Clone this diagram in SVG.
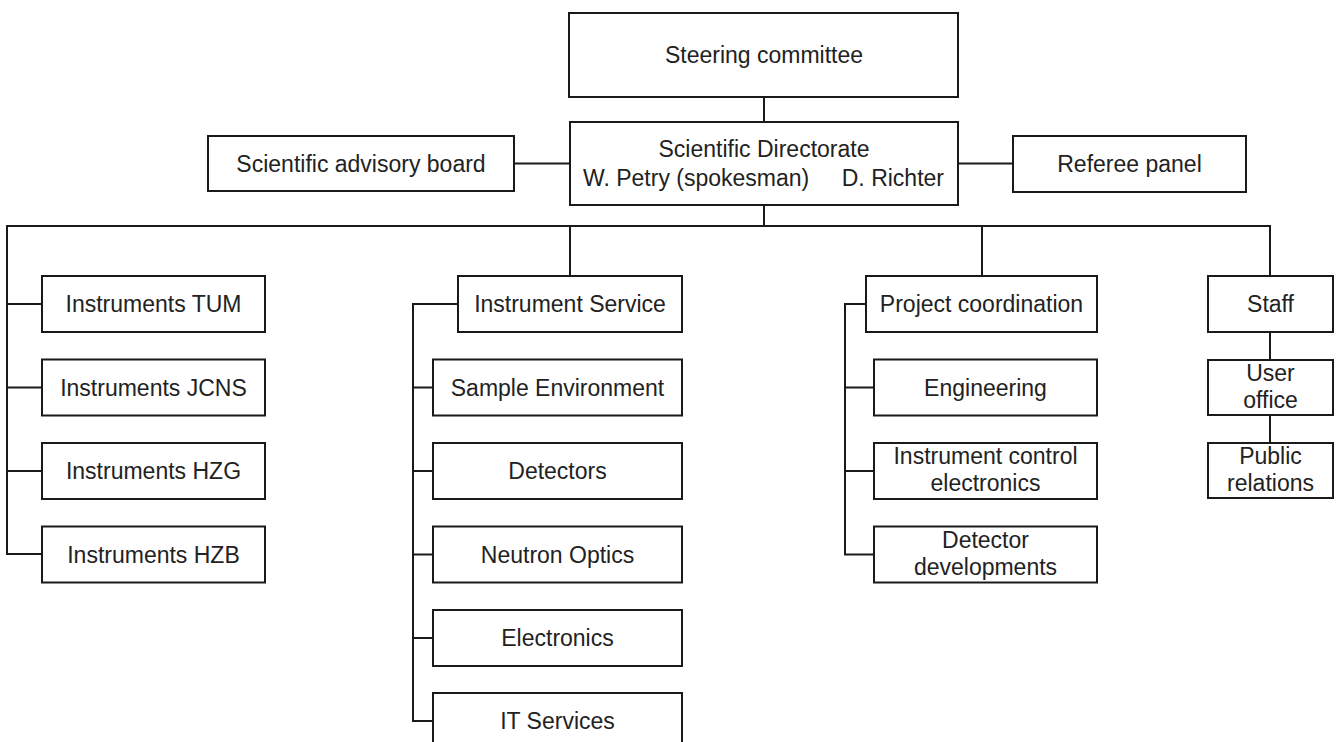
<svg xmlns="http://www.w3.org/2000/svg" width="1337" height="742" viewBox="0 0 1337 742">
<style>
.box{fill:#fff;stroke:#1a1a1a;stroke-width:2}
.ln{fill:none;stroke:#1a1a1a;stroke-width:2}
text{font-family:"Liberation Sans",Arial,sans-serif;font-size:23px;fill:#222;text-anchor:middle}
</style>
<rect width="1337" height="742" fill="#fff"/>
<g id="connectors">
<path class="ln" d="M764 97V122M764 205V226M514 163.5H570M958 163.5H1013"/>
<path class="ln" d="M1270 276V226H7V554H42M7 304H42M7 387.5H42M7 471H42"/>
<path class="ln" d="M570 226V276M458 304H413V721H433M413 387.5H433M413 471H433M413 554.5H433M413 638H433"/>
<path class="ln" d="M982 226V277M866 304H845V554.5H874M845 387.5H874M845 471H874"/>
<path class="ln" d="M1270 332V360M1270 415V443"/>
</g>
<g id="steering"><rect class="box" x="569" y="13" width="389" height="84"/><text x="764" y="63">Steering committee</text></g>
<g id="directorate"><rect class="box" x="570" y="122" width="388" height="83"/><text x="764" y="157">Scientific Directorate</text><text y="186"><tspan x="583" style="text-anchor:start">W. Petry (spokesman)</tspan><tspan x="944" style="text-anchor:end">D. Richter</tspan></text></g>
<g id="advisory"><rect class="box" x="208" y="136" width="306" height="55"/><text x="361" y="172">Scientific advisory board</text></g>
<g id="referee"><rect class="box" x="1013" y="136" width="233" height="56"/><text x="1129.5" y="172">Referee panel</text></g>
<g id="tum"><rect class="box" x="42" y="276" width="223" height="56"/><text x="153.5" y="312">Instruments TUM</text></g>
<g id="jcns"><rect class="box" x="42" y="359.5" width="223" height="56"/><text x="153.5" y="395.5">Instruments JCNS</text></g>
<g id="hzg"><rect class="box" x="42" y="443" width="223" height="56"/><text x="153.5" y="479">Instruments HZG</text></g>
<g id="hzb"><rect class="box" x="42" y="526.5" width="223" height="56"/><text x="153.5" y="562.5">Instruments HZB</text></g>
<g id="instrument-service"><rect class="box" x="458" y="276" width="224" height="56"/><text x="570" y="312">Instrument Service</text></g>
<g id="sample-env"><rect class="box" x="433" y="359.5" width="249" height="56"/><text x="557.5" y="395.5">Sample Environment</text></g>
<g id="detectors"><rect class="box" x="433" y="443" width="249" height="56"/><text x="557.5" y="479">Detectors</text></g>
<g id="neutron-optics"><rect class="box" x="433" y="526.5" width="249" height="56"/><text x="557.5" y="562.5">Neutron Optics</text></g>
<g id="electronics"><rect class="box" x="433" y="610" width="249" height="56"/><text x="557.5" y="646">Electronics</text></g>
<g id="it-services"><rect class="box" x="433" y="693" width="249" height="56"/><text x="557.5" y="729">IT Services</text></g>
<g id="project-coordination"><rect class="box" x="866" y="276" width="231" height="56"/><text x="981.5" y="312">Project coordination</text></g>
<g id="engineering"><rect class="box" x="874" y="359.5" width="223" height="56"/><text x="985.5" y="395.5">Engineering</text></g>
<g id="ice"><rect class="box" x="874" y="443" width="223" height="56"/><text x="985.5" y="464">Instrument control</text><text x="985.5" y="491">electronics</text></g>
<g id="detector-dev"><rect class="box" x="874" y="526.5" width="223" height="56"/><text x="985.5" y="547.5">Detector</text><text x="985.5" y="574.5">developments</text></g>
<g id="staff"><rect class="box" x="1208" y="276" width="125" height="56"/><text x="1270.5" y="312">Staff</text></g>
<g id="user-office"><rect class="box" x="1208" y="360" width="125" height="55"/><text x="1270.5" y="380.5">User</text><text x="1270.5" y="407.5">office</text></g>
<g id="public-relations"><rect class="box" x="1208" y="443" width="125" height="55"/><text x="1270.5" y="463.5">Public</text><text x="1270.5" y="490.5">relations</text></g>
</svg>
